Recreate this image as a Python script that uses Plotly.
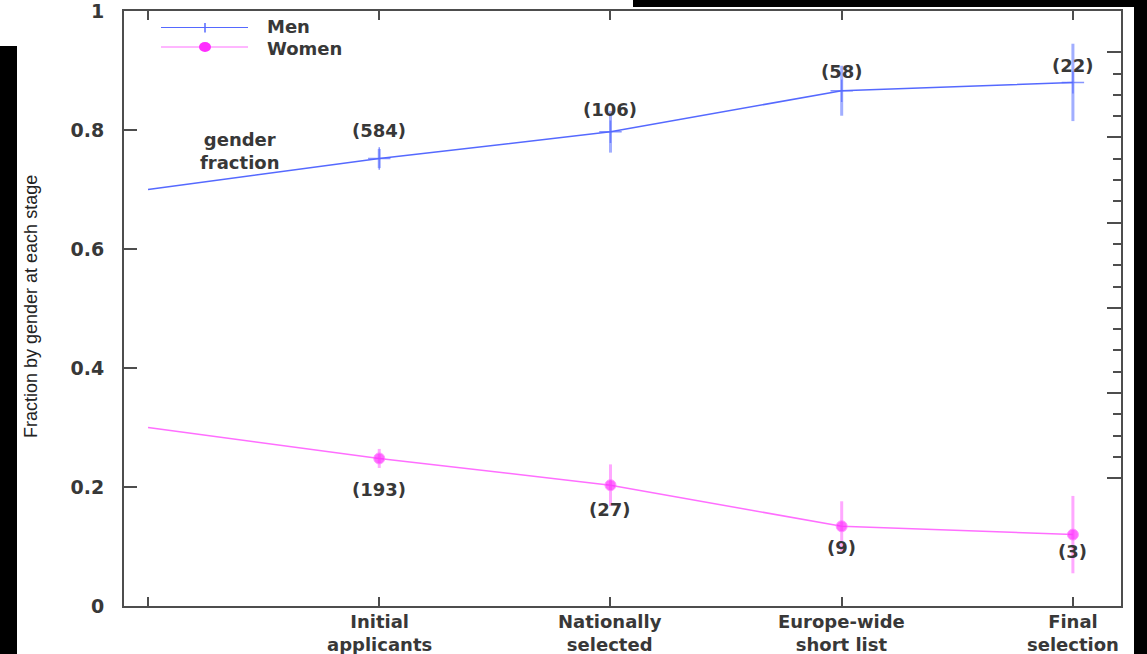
import plotly.graph_objects as go

# Selection stages (position 0 is the unlabeled starting point)
stage_pos = [0, 1, 2, 3, 4]
stage_labels = [
    "Initial<br>applicants",
    "Nationally<br>selected",
    "Europe-wide<br>short list",
    "Final<br>selection",
]

# Fraction of men / women at each stage
men_frac = [0.70, 0.752, 0.797, 0.866, 0.88]
women_frac = [0.30, 0.248, 0.203, 0.134, 0.12]
# Binomial error on the fraction at each stage
frac_err = [0.0, 0.016, 0.035, 0.042, 0.065]

# Head counts at the four labeled stages
men_n = [584, 106, 58, 22]
women_n = [193, 27, 9, 3]

# Vertical placement of the head-count labels (data units)
men_label_y = [0.800, 0.835, 0.899, 0.908]
women_label_y = [0.195, 0.163, 0.0975, 0.091]

W, H = 1147, 654
L, R, T, B = 124, 26, 11, 48
PW, PH = W - L - R, H - T - B


def px(x):
    return (x - L) / PW


def py(y):
    return (H - B - y) / PH


BLUE = "rgb(85,105,255)"
BLUE_ERR = "rgba(110,130,255,0.65)"
MAG = "rgb(255,110,255)"
MAG_MK = "rgb(255,45,255)"
MAG_ERR = "rgba(255,110,255,0.6)"
AXC = "#4d4d4d"
TXT = "#383838"
FONT = "DejaVu Sans"

fig = go.Figure()

fig.add_trace(go.Scatter(
    x=stage_pos, y=men_frac, mode="lines+markers", name="Men",
    line=dict(color=BLUE, width=1.5),
    marker=dict(symbol="cross-thin", size=[0, 16, 16, 16, 16],
                line=dict(color=BLUE, width=1.5), color=BLUE),
    error_y=dict(type="data", array=frac_err, visible=True,
                 color=BLUE_ERR, thickness=3, width=0),
    showlegend=False,
))
fig.add_trace(go.Scatter(
    x=stage_pos, y=women_frac, mode="lines+markers", name="Women",
    line=dict(color=MAG, width=1.5),
    marker=dict(symbol="circle", size=[0, 11, 11, 11, 11], color=MAG_MK),
    error_y=dict(type="data", array=frac_err, visible=True,
                 color=MAG_ERR, thickness=3, width=0),
    showlegend=False,
))
# carrier for the right-hand frame ticks
fig.add_trace(go.Scatter(x=[None], y=[None], yaxis="y2", showlegend=False,
                         hoverinfo="skip"))

ann = []
lab_font = dict(family=FONT, size=18, color=TXT, weight="bold")
for i, lab in enumerate(stage_labels):
    xv = stage_pos[i + 1]
    ann.append(dict(x=xv, y=py(632.5), xref="x", yref="paper", text=lab,
                    showarrow=False, font=lab_font, xanchor="center", yanchor="middle",
                    borderpad=0))
    ann.append(dict(x=xv, y=men_label_y[i], xref="x", yref="y", text=f"({men_n[i]})",
                    showarrow=False, font=lab_font, xanchor="center", yanchor="middle",
                    borderpad=0))
    ann.append(dict(x=xv, y=women_label_y[i], xref="x", yref="y", text=f"({women_n[i]})",
                    showarrow=False, font=lab_font, xanchor="center", yanchor="middle",
                    borderpad=0))

ann.append(dict(x=0.394, y=py(151), xref="x", yref="paper", text="gender<br>fraction",
                showarrow=False, font=lab_font, xanchor="center", yanchor="middle",
                borderpad=0))

# legend entries
ann.append(dict(x=px(266), y=py(26.5), xref="paper", yref="paper", text="Men",
                showarrow=False, font=lab_font, xanchor="left", yanchor="middle",
                borderpad=0))
ann.append(dict(x=px(266), y=py(48), xref="paper", yref="paper", text="Women",
                showarrow=False, font=lab_font, xanchor="left", yanchor="middle",
                borderpad=0))

# y-axis title
ann.append(dict(x=px(31), y=py(307), xref="paper", yref="paper",
                text="Fraction by gender at each stage", textangle=-90,
                showarrow=False, font=dict(family="Liberation Sans", size=18, color="#222"),
                xanchor="center", yanchor="middle"))

shapes = [
    # legend samples
    dict(type="line", xref="paper", yref="paper", x0=px(161), x1=px(248),
         y0=py(27.5), y1=py(27.5), line=dict(color=BLUE, width=1)),
    dict(type="line", xref="paper", yref="paper", x0=px(205), x1=px(205),
         y0=py(23), y1=py(32.5), line=dict(color=BLUE, width=1.5)),
    dict(type="line", xref="paper", yref="paper", x0=px(161), x1=px(248),
         y0=py(47), y1=py(47), line=dict(color=MAG, width=1)),
    dict(type="circle", xref="paper", yref="paper", x0=px(199), x1=px(211),
         y0=py(42), y1=py(52), fillcolor=MAG_MK, line=dict(width=0)),
    # black borders around the figure
    dict(type="rect", xref="paper", yref="paper", x0=px(-5), x1=px(17),
         y0=py(46), y1=py(660), fillcolor="black", line=dict(width=0), layer="above"),
    dict(type="rect", xref="paper", yref="paper", x0=px(633), x1=px(1152),
         y0=py(-5), y1=py(7), fillcolor="black", line=dict(width=0), layer="above"),
    dict(type="rect", xref="paper", yref="paper", x0=px(1134), x1=px(1152),
         y0=py(-5), y1=py(660), fillcolor="black", line=dict(width=0), layer="above"),
]

# right-hand frame ticks: long every unit, short every quarter
y2_major = [1.5, 2.5, 3.5, 4.5, 5.5, 6.5]
y2_minor = [m + q for m in y2_major[:-1] for q in (0.25, 0.5, 0.75)]

fig.update_layout(
    width=W, height=H, autosize=False,
    margin=dict(l=L, r=R, t=T, b=B, pad=0, autoexpand=False),
    paper_bgcolor="white", plot_bgcolor="white",
    showlegend=False,
    xaxis=dict(range=[-0.104, 4.208], tickvals=stage_pos, ticktext=[""] * 5,
               ticks="inside", ticklen=9, tickwidth=2, tickcolor=AXC,
               showline=True, linecolor=AXC, linewidth=2, mirror="ticks",
               showgrid=False, zeroline=False, automargin=False),
    yaxis=dict(range=[0, 1], tickvals=[0, 0.2, 0.4, 0.6, 0.8, 1],
               ticktext=["0", "0.2", "0.4", "0.6", "0.8", "1"],
               ticks="inside", ticklen=13, tickwidth=2, tickcolor=AXC,
               showline=True, linecolor=AXC, linewidth=2, mirror=True,
               showgrid=False, zeroline=False, ticklabelstandoff=14,
               automargin=False, ticklabeloverflow="allow",
               tickfont=dict(family=FONT, size=19, color=TXT, weight="bold")),
    yaxis2=dict(overlaying="y", side="right", range=[0, PH / 85.2],
                tickvals=y2_major,
                ticks="inside", ticklen=14, tickwidth=2,
                tickcolor=AXC, showticklabels=False, showline=False,
                showgrid=False, zeroline=False, automargin=False,
                minor=dict(tickvals=y2_minor,
                           ticks="inside", ticklen=8, tickwidth=2,
                           tickcolor=AXC, showgrid=False)),
    annotations=ann,
    shapes=shapes,
)

fig.write_html("out.html")
